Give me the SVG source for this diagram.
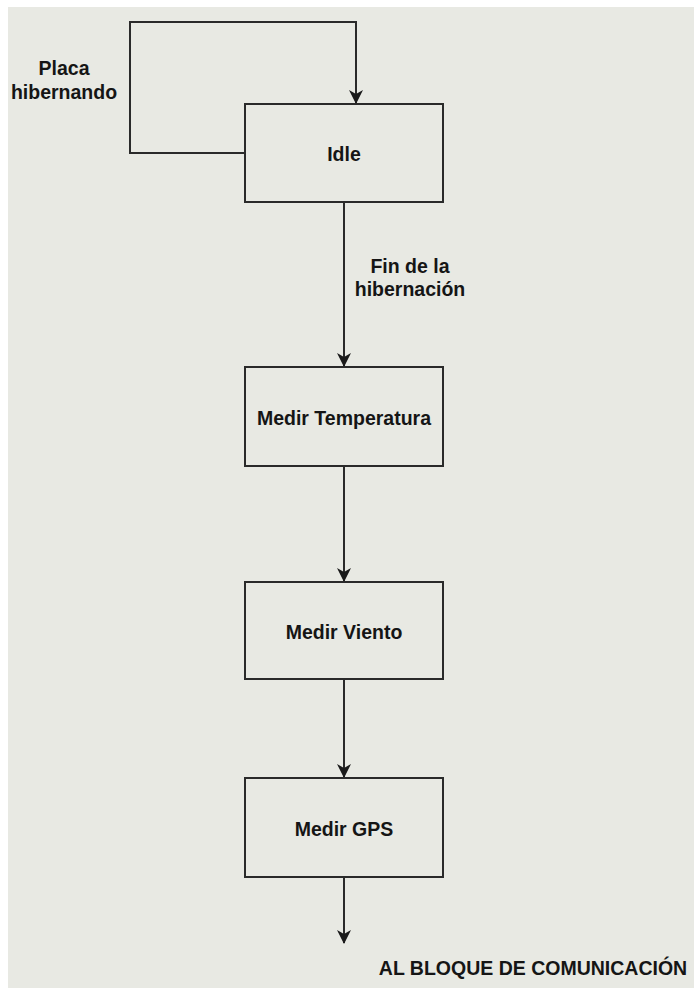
<svg xmlns="http://www.w3.org/2000/svg" width="694" height="988" viewBox="0 0 694 988">
<style>
.box{fill:#e8e9e3;stroke:#2a2a2a;stroke-width:2}
.lbl{font-family:"Liberation Sans",Arial,sans-serif;font-weight:bold;font-size:19.5px;fill:#151515;text-anchor:middle;dominant-baseline:central}
.edge{fill:none;stroke:#2a2a2a;stroke-width:2}
</style>
<defs>
<marker id="arr" viewBox="0 0 14 14" refX="13" refY="7" markerWidth="14" markerHeight="14" markerUnits="userSpaceOnUse" orient="auto">
<path d="M0,0 L14,7 L0,14 L4,7 Z" fill="#1a1a1a"/>
</marker>
</defs>
<rect x="0" y="0" width="694" height="988" fill="#ffffff"/>
<rect x="8" y="7" width="686" height="981" fill="#e8e9e3"/>
<g id="connectors">
<path class="edge" d="M245,153 H130 V22 H356 V103" marker-end="url(#arr)"/>
<path class="edge" d="M344,202 V366" marker-end="url(#arr)"/>
<path class="edge" d="M344,466 V581" marker-end="url(#arr)"/>
<path class="edge" d="M344,679 V777" marker-end="url(#arr)"/>
<path class="edge" d="M344,877 V943" marker-end="url(#arr)"/>
</g>
<g id="label-placa">
<text class="lbl" x="64" y="68">Placa</text>
<text class="lbl" x="64" y="92">hibernando</text>
</g>
<g id="label-fin">
<text class="lbl" x="410" y="266">Fin de la</text>
<text class="lbl" x="410" y="289">hibernación</text>
</g>
<g id="node-idle">
<rect class="box" x="245" y="104" width="198" height="98"/>
<text class="lbl" x="344" y="154">Idle</text>
</g>
<g id="node-temp">
<rect class="box" x="245" y="367" width="198" height="99"/>
<text class="lbl" x="344" y="418">Medir Temperatura</text>
</g>
<g id="node-viento">
<rect class="box" x="245" y="582" width="198" height="97"/>
<text class="lbl" x="344" y="632">Medir Viento</text>
</g>
<g id="node-gps">
<rect class="box" x="245" y="778" width="198" height="99"/>
<text class="lbl" x="344" y="829">Medir GPS</text>
</g>
<g id="label-bloque">
<text class="lbl" x="533" y="968">AL BLOQUE DE COMUNICACIÓN</text>
</g>
</svg>
